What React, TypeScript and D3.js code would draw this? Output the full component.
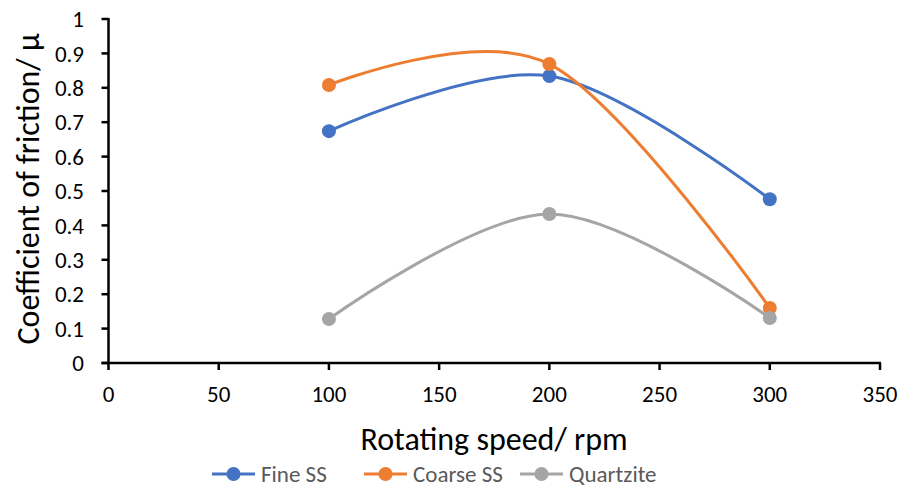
import React from "react";
import * as d3 from "d3";

const xValues = [100, 200, 300];
const fineSS = [0.674, 0.834, 0.476];
const coarseSS = [0.808, 0.869, 0.16];
const quartzite = [0.128, 0.433, 0.131];
const seriesNames = ["Fine SS", "Coarse SS", "Quartzite"];
const seriesColors = ["#4472C4", "#ED7D31", "#A5A5A5"];
const xTicks = [0, 50, 100, 150, 200, 250, 300, 350];
const yTicks = [0, 0.1, 0.2, 0.3, 0.4, 0.5, 0.6, 0.7, 0.8, 0.9, 1];

const W = 904, H = 489;
const FONT = "Carlito, Calibri, 'Open Sans', 'Liberation Sans', sans-serif";

export default function App() {
  const x = d3.scaleLinear().domain([0, 350]).range([108.5, 880]);
  const y = d3.scaleLinear().domain([0, 1]).range([363, 19]);
  const line = d3
    .line<[number, number]>()
    .x((d) => x(d[0]))
    .y((d) => y(d[1]))
    .curve(d3.curveCardinal.tension(0));
  const all = [fineSS, coarseSS, quartzite];
  const legendX = [212, 364, 520];
  const legendY = 474;
  return (
    <svg width={W} height={H} style={{ position: "absolute", left: 0, top: 0, background: "#fff" }} fontFamily={FONT}>
      {/* y axis */}
      <line x1={x(0)} x2={x(0)} y1={y(1) - 1} y2={y(0) + 1} stroke="#000" strokeWidth={2.5} />
      {yTicks.map((t) => (
        <g key={"y" + t}>
          <line x1={x(0) - 7} x2={x(0)} y1={y(t)} y2={y(t)} stroke="#000" strokeWidth={2.5} />
          <text x={84} y={y(t)} dy="0.36em" textAnchor="end" fontSize={23} fill="#000">
            {d3.format("~g")(t)}
          </text>
        </g>
      ))}
      {/* x axis */}
      <line x1={x(0) - 7} x2={x(350) + 1} y1={y(0)} y2={y(0)} stroke="#000" strokeWidth={2.5} />
      {xTicks.map((t) => (
        <g key={"x" + t}>
          <line x1={x(t)} x2={x(t)} y1={y(0)} y2={y(0) + 7} stroke="#000" strokeWidth={2.5} />
          <text x={x(t)} y={402} textAnchor="middle" fontSize={23} fill="#000">
            {t}
          </text>
        </g>
      ))}
      <text x={494} y={450} textAnchor="middle" fontSize={32} fill="#000">
        Rotating speed/ rpm
      </text>
      <text transform={`translate(39,189) rotate(-90)`} textAnchor="middle" fontSize={32} fill="#000">
        Coefficient of friction/ μ
      </text>
      {all.map((vals, i) => {
        const pts = xValues.map((xv, j) => [xv, vals[j]] as [number, number]);
        return (
          <g key={"s" + i}>
            <path d={line(pts) || ""} fill="none" stroke={seriesColors[i]} strokeWidth={3} />
            {pts.map((p, j) => (
              <circle key={j} cx={x(p[0])} cy={y(p[1])} r={7} fill={seriesColors[i]} />
            ))}
          </g>
        );
      })}
      {seriesNames.map((n, i) => (
        <g key={"l" + i}>
          <line x1={legendX[i]} x2={legendX[i] + 43} y1={legendY} y2={legendY} stroke={seriesColors[i]} strokeWidth={3} />
          <circle cx={legendX[i] + 21.5} cy={legendY} r={7} fill={seriesColors[i]} />
          <text x={legendX[i] + 49} y={legendY} dy="0.35em" fontSize={23} fill="#595959">
            {n}
          </text>
        </g>
      ))}
    </svg>
  );
}
